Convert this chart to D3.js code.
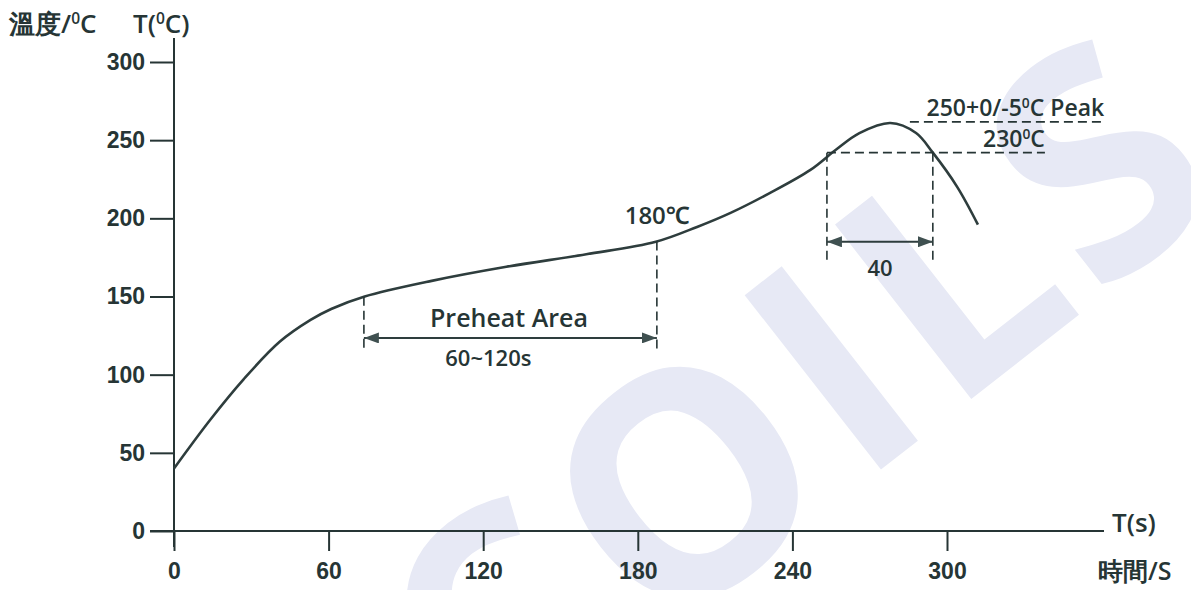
<!DOCTYPE html>
<html>
<head>
<meta charset="utf-8">
<script src="https://cdn.jsdelivr.net/npm/d3@7"></script>
<style>
  html, body { margin: 0; padding: 0; background: #fff; }
  svg { display: block; font-family: "Open Sans", "Noto Sans", sans-serif; }
  .axis text { font-size: 23px; font-weight: 600; fill: #263535; }
  .axis line { stroke: #263535; stroke-width: 2; }
  .lbl { fill: #263535; font-weight: 600; }
  .dash { stroke: #263535; stroke-width: 1.6; stroke-dasharray: 9 5; fill: none; }
</style>
</head>
<body>
<div id="chart"></div>
<script>
// reflow profile (time s, temperature degC)
const timeSec = [0, 14, 27, 41, 53, 61, 74, 100, 129, 160, 187, 203, 216, 231, 247, 257, 266, 278, 288, 294.5, 304, 312];
const tempC   = [40, 71, 97, 121, 135, 142, 150, 160, 169, 177, 185, 194.5, 203.5, 216, 231, 244, 254.5, 261, 254.6, 242, 220, 196];

const xTicks = [0, 60, 120, 180, 240, 300];
const yTicks = [0, 50, 100, 150, 200, 250, 300];

// annotation values
const preheatSpan = [73.7, 187.4];
const preheatArrowT = 123.5;
const liquidusT = 242;          // drawn level of the 230 line
const peakT = 261.7;            // drawn level of the peak line
const liquidusSpan = [253.4, 294.5];
const liquidusArrowT = 185;

const WIDTH = 1191, HEIGHT = 590;
const MARGIN = { top: 62, right: 244, bottom: 59, left: 174 };
const innerW = WIDTH - MARGIN.left - MARGIN.right;
const innerH = HEIGHT - MARGIN.top - MARGIN.bottom;

const svg = d3.select('#chart').append('svg')
  .attr('width', WIDTH).attr('height', HEIGHT)
  .attr('viewBox', `0 0 ${WIDTH} ${HEIGHT}`);

// watermark
svg.append('text')
  .attr('transform', 'translate(490,775) rotate(-38)')
  .attr('font-size', 310).attr('font-weight', 700)
  .attr('letter-spacing', 12)
  .attr('fill', '#e7e9f5')
  .attr('font-family', 'Open Sans, sans-serif')
  .text('COILS');

const defs = svg.append('defs');
defs.append('marker').attr('id', 'arr')
  .attr('viewBox', '0 0 15 11').attr('refX', 15).attr('refY', 5.5)
  .attr('markerWidth', 15).attr('markerHeight', 11)
  .attr('markerUnits', 'userSpaceOnUse').attr('orient', 'auto-start-reverse')
  .append('path').attr('d', 'M0,0L15,5.5L0,11Z').attr('fill', '#3f5050');

const g = svg.append('g').attr('transform', `translate(${MARGIN.left},${MARGIN.top})`);

const x = d3.scaleLinear().domain([0, 300]).range([0, innerW]);
const y = d3.scaleLinear().domain([0, 300]).range([innerH, 0]);

// axes
const xAxis = g.append('g').attr('class', 'axis')
  .attr('transform', `translate(0,${innerH})`)
  .call(d3.axisBottom(x).tickValues(xTicks).tickSize(20).tickPadding(12));
xAxis.select('.domain').remove();
xAxis.append('line').attr('x1', -24).attr('x2', 930).attr('y1', 0).attr('y2', 0);

const yAxis = g.append('g').attr('class', 'axis')
  .call(d3.axisLeft(y).tickValues(yTicks).tickSize(24).tickPadding(5));
yAxis.select('.domain').remove();
yAxis.append('line').attr('x1', 0).attr('x2', 0).attr('y1', -24).attr('y2', innerH + 16);

// axis titles
const sup = (sel, pre, post) => {
  sel.append('tspan').text(pre);
  sel.append('tspan').attr('font-size', '0.6em').attr('dy', '-0.55em').text('0');
  sel.append('tspan').attr('dy', '0.33em').text(post);
};
svg.append('text').attr('class', 'lbl').attr('x', 9).attr('y', 33).attr('font-size', 26)
  .attr('font-weight', 700).call(sup, '溫度/', 'C');
svg.append('text').attr('class', 'lbl').attr('x', 133).attr('y', 33).attr('font-size', 26)
  .attr('font-weight', 700).call(sup, 'T(', 'C)');
svg.append('text').attr('class', 'lbl').attr('x', 1112).attr('y', 532).attr('font-size', 26)
  .text('T(s)');
svg.append('text').attr('class', 'lbl').attr('x', 1098).attr('y', 580).attr('font-size', 25)
  .text('時間/S');

// profile curve
const pts = timeSec.map((t, i) => [t, tempC[i]]);
const line = d3.line().x((p) => x(p[0])).y((p) => y(p[1])).curve(d3.curveCatmullRom.alpha(0.5));
g.append('path').datum(pts).attr('d', line)
  .attr('fill', 'none').attr('stroke', '#2e3d3d').attr('stroke-width', 2.6);

const curveAt = (t) => {
  const i = d3.bisector((p) => p[0]).left(pts, t);
  if (i <= 0) return pts[0][1];
  const a = pts[i - 1], b = pts[i];
  return a[1] + (b[1] - a[1]) * (t - a[0]) / (b[0] - a[0]);
};

// preheat zone
preheatSpan.forEach((t) => {
  g.append('line').attr('class', 'dash')
    .attr('x1', x(t)).attr('x2', x(t))
    .attr('y1', y(curveAt(t))).attr('y2', y(preheatArrowT) + 12);
});
g.append('line')
  .attr('x1', x(preheatSpan[0])).attr('x2', x(preheatSpan[1]))
  .attr('y1', y(preheatArrowT)).attr('y2', y(preheatArrowT))
  .attr('stroke', '#2e3d3d').attr('stroke-width', 2)
  .attr('marker-start', 'url(#arr)').attr('marker-end', 'url(#arr)');
g.append('text').attr('class', 'lbl').attr('font-size', 25).attr('font-weight', 700)
  .attr('text-anchor', 'middle').attr('x', x(130)).attr('y', y(preheatArrowT) - 11)
  .text('Preheat Area');
g.append('text').attr('class', 'lbl').attr('font-size', 22).attr('font-weight', 400)
  .attr('text-anchor', 'middle').attr('x', x(122)).attr('y', y(preheatArrowT) + 28)
  .text('60~120s');
g.append('text').attr('class', 'lbl').attr('font-size', 24).attr('font-weight', 400)
  .attr('text-anchor', 'end').attr('x', x(preheatSpan[1]) + 33).attr('y', y(curveAt(preheatSpan[1])) - 17)
  .text('180℃');

// reflow zone
g.append('line').attr('class', 'dash')
  .attr('x1', x(liquidusSpan[0])).attr('x2', x(338))
  .attr('y1', y(liquidusT)).attr('y2', y(liquidusT));
g.append('line').attr('class', 'dash')
  .attr('x1', x(285.6)).attr('x2', x(361))
  .attr('y1', y(peakT)).attr('y2', y(peakT));
liquidusSpan.forEach((t) => {
  g.append('line').attr('class', 'dash')
    .attr('x1', x(t)).attr('x2', x(t))
    .attr('y1', y(liquidusT)).attr('y2', y(liquidusArrowT) + 20);
});
g.append('line')
  .attr('x1', x(liquidusSpan[0])).attr('x2', x(liquidusSpan[1]))
  .attr('y1', y(liquidusArrowT)).attr('y2', y(liquidusArrowT))
  .attr('stroke', '#2e3d3d').attr('stroke-width', 2)
  .attr('marker-start', 'url(#arr)').attr('marker-end', 'url(#arr)');
g.append('text').attr('class', 'lbl').attr('font-size', 22).attr('font-weight', 400)
  .attr('text-anchor', 'middle').attr('x', x(274)).attr('y', y(liquidusArrowT) + 34)
  .text('40');
g.append('text').attr('class', 'lbl').attr('font-size', 23).attr('font-weight', 400)
  .attr('text-anchor', 'end').attr('x', x(338)).attr('y', y(liquidusT) - 6)
  .call(sup, '230', 'C');
g.append('text').attr('class', 'lbl').attr('font-size', 23).attr('font-weight', 400)
  .attr('text-anchor', 'end').attr('x', x(361)).attr('y', y(peakT) - 6)
  .call(sup, '250+0/-5', 'C Peak');
</script>
</body>
</html>
